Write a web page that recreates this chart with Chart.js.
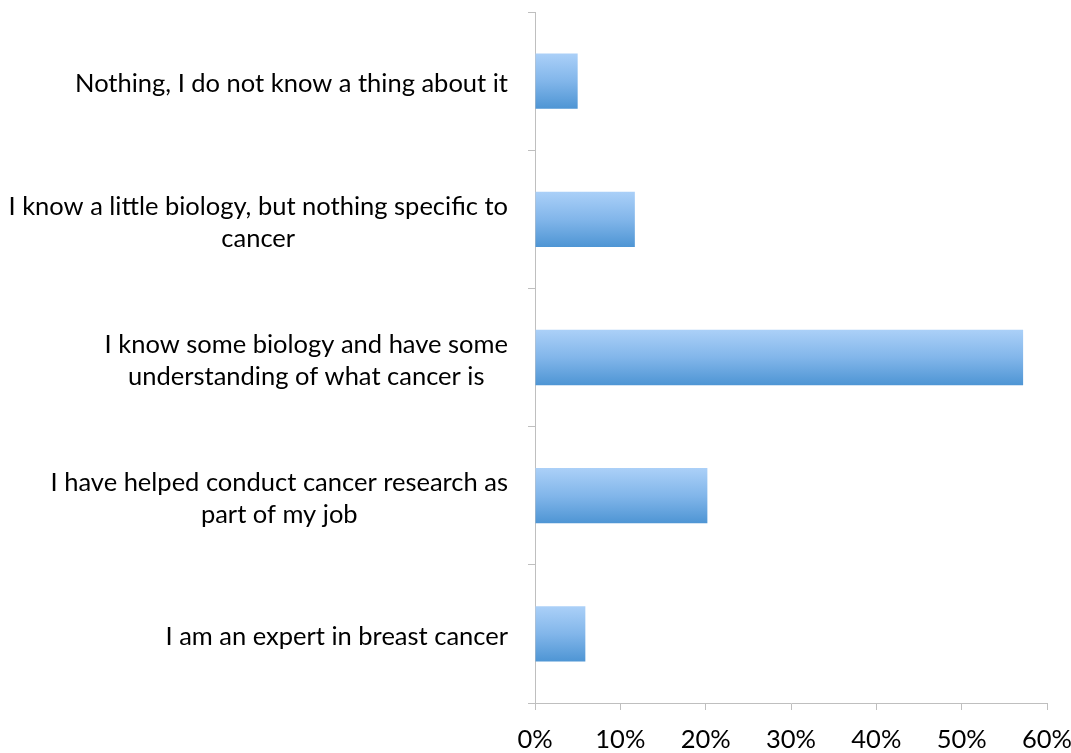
<!DOCTYPE html>
<html>
<head>
<meta charset="utf-8">
<script src="https://cdn.jsdelivr.net/npm/chart.js@4.4.1/dist/chart.umd.min.js"></script>
<style>
  html, body { margin: 0; padding: 0; background: #fff; }
  #wrap { width: 1071px; height: 753px; }
</style>
</head>
<body>
<div id="wrap"><canvas id="chart"></canvas></div>
<script>
const categories = [
    ['Nothing, I do not know a thing about it'],
    ['I know a little biology, but nothing specific to', 'cancer'],
    ['I know some biology and have some', 'understanding of what cancer is'],
    ['I have helped conduct cancer research as', 'part of my job'],
    ['I am an expert in breast cancer']
]
const shares = [5.0, 11.7, 57.2, 20.2, 5.9]
const tickValues = [0, 10, 20, 30, 40, 50, 60]

const barThickness = 0.4
const labelFont = '25.5px Lato'

function barGradient(context) {
    const chart = context.chart
    const yScale = chart.scales.y
    if (!chart.chartArea || !yScale) return '#7fb2e8'
    const center = yScale.getPixelForValue(context.dataIndex)
    const band = (yScale.bottom - yScale.top) / categories.length
    const half = band * barThickness / 2
    const g = chart.ctx.createLinearGradient(0, center - half, 0, center + half)
    g.addColorStop(0, '#abd0f8')
    g.addColorStop(0.5, '#82b6ea')
    g.addColorStop(1, '#4e95d4')
    return g
}

// category labels: block pushed against the axis, lines centred inside the block
const blockLabels = {
    id: 'blockLabels',
    afterDraw(chart) {
        const yScale = chart.scales.y
        const c = chart.ctx
        c.save()
        c.font = labelFont
        c.fillStyle = '#000'
        c.textAlign = 'center'
        c.textBaseline = 'middle'
        const right = yScale.right - 27
        categories.forEach((lines, i) => {
            const w = Math.max(...lines.map(t => c.measureText(t).width))
            const cx = right - w / 2
            const cy = yScale.getPixelForValue(i) + 3
            lines.forEach((t, k) => {
                c.fillText(t, cx, cy + (k - (lines.length - 1) / 2) * 32)
            })
        })
        c.restore()
    }
}

function initChart() {
    const ctx = document.getElementById('chart').getContext('2d')
    new Chart(ctx, {
        type: 'bar',
        data: {
            labels: categories,
            datasets: [{
                data: shares,
                backgroundColor: barGradient,
                borderWidth: 0,
                categoryPercentage: 1,
                barPercentage: barThickness
            }]
        },
        options: {
            indexAxis: 'y',
            responsive: true,
            maintainAspectRatio: false,
            animation: false,
            layout: { padding: { top: 12, right: 2, left: 10, bottom: 0 } },
            plugins: {
                legend: { display: false },
                tooltip: { enabled: false }
            },
            scales: {
                x: {
                    min: 0,
                    max: 60,
                    afterBuildTicks: (axis) => {
                        axis.ticks = tickValues.map(v => ({ value: v }))
                    },
                    afterFit: (axis) => {
                        // chart.js doubles ticks.padding in fit, so pin the size
                        axis.height = 50
                        axis.paddingLeft = 0
                        axis.paddingRight = 24
                        axis.paddingTop = 0
                        axis.paddingBottom = 0
                    },
                    grid: {
                        drawOnChartArea: false,
                        drawTicks: true,
                        tickLength: 7,
                        color: '#bfbfbf'
                    },
                    border: { color: '#bfbfbf', width: 1 },
                    ticks: {
                        callback: (v) => v + '%',
                        color: '#000',
                        padding: 17,
                        maxRotation: 0,
                        font: { family: 'Lato', size: 25.5, lineHeight: 1 }
                    }
                },
                y: {
                    afterFit: (axis) => {
                        axis.width = 525
                        axis.paddingTop = 0
                        axis.paddingBottom = 0
                    },
                    grid: {
                        drawOnChartArea: false,
                        drawTicks: true,
                        tickLength: 7,
                        color: '#bfbfbf',
                        offset: true
                    },
                    border: { color: '#bfbfbf', width: 1 },
                    ticks: {
                        display: false
                    }
                }
            }
        },
        plugins: [blockLabels]
    })
}

initChart()
</script>
</body>
</html>
